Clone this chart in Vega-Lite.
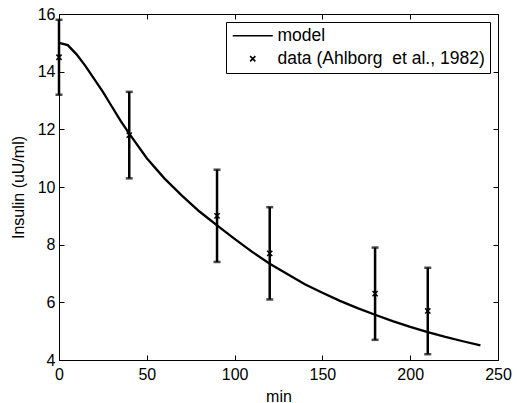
{
  "$schema": "https://vega.github.io/schema/vega-lite/v6.json",
  "width": 439,
  "height": 346,
  "autosize": {"type": "none"},
  "padding": {"left": 59, "top": 14, "right": 19, "bottom": 43},
  "config": {
    "font": "Liberation Sans",
    "view": {"stroke": "black", "strokeWidth": 1},
    "axis": {
      "domain": false, "offset": -5,
      "tickColor": "black", "tickSize": 5, "tickWidth": 1,
      "labelColor": "black", "labelFontSize": 16, "labelFont": "Liberation Sans",
      "titleColor": "black", "titleFontSize": 16, "titleFontWeight": "normal", "titleFont": "Liberation Sans",
      "grid": false, "labelFlush": false, "labelOverlap": false
    },
    "legend": {
      "orient": "top-right", "offset": 8, "strokeColor": "black", "fillColor": "white",
      "padding": 5, "labelFontSize": 17.5, "labelFont": "Liberation Sans", "labelColor": "black", "labelLimit": 400,
      "symbolSize": 16, "symbolStrokeWidth": 1.6, "symbolStrokeColor": "black",
      "rowPadding": 4, "symbolOffset": 13, "labelOffset": 16
    }
  },
  "datasets": {
    "curve": [
      {"t": 0, "insulin": 15.0}, {"t": 5, "insulin": 14.92}, {"t": 10, "insulin": 14.6},
      {"t": 15, "insulin": 14.2}, {"t": 20, "insulin": 13.75}, {"t": 25, "insulin": 13.3},
      {"t": 30, "insulin": 12.8}, {"t": 35, "insulin": 12.3}, {"t": 40, "insulin": 11.85},
      {"t": 50, "insulin": 11.0}, {"t": 60, "insulin": 10.3}, {"t": 70, "insulin": 9.7},
      {"t": 80, "insulin": 9.15}, {"t": 90, "insulin": 8.67}, {"t": 100, "insulin": 8.2},
      {"t": 110, "insulin": 7.75}, {"t": 120, "insulin": 7.34}, {"t": 130, "insulin": 6.98},
      {"t": 140, "insulin": 6.63}, {"t": 150, "insulin": 6.33}, {"t": 160, "insulin": 6.05},
      {"t": 170, "insulin": 5.8}, {"t": 180, "insulin": 5.57}, {"t": 190, "insulin": 5.35},
      {"t": 200, "insulin": 5.15}, {"t": 210, "insulin": 4.97}, {"t": 220, "insulin": 4.8},
      {"t": 230, "insulin": 4.65}, {"t": 240, "insulin": 4.51}
    ],
    "obs": [
      {"t": 0, "mean": 14.5, "lo": 13.2, "hi": 15.8, "series": "data (Ahlborg\u00a0 et al., 1982)"},
      {"t": 40, "mean": 11.8, "lo": 10.3, "hi": 13.3, "series": "data (Ahlborg\u00a0 et al., 1982)"},
      {"t": 90, "mean": 9.0, "lo": 7.4, "hi": 10.6, "series": "data (Ahlborg\u00a0 et al., 1982)"},
      {"t": 120, "mean": 7.7, "lo": 6.1, "hi": 9.3, "series": "data (Ahlborg\u00a0 et al., 1982)"},
      {"t": 180, "mean": 6.3, "lo": 4.7, "hi": 7.9, "series": "data (Ahlborg\u00a0 et al., 1982)"},
      {"t": 210, "mean": 5.7, "lo": 4.2, "hi": 7.2, "series": "data (Ahlborg\u00a0 et al., 1982)"}
    ]
  },
  "layer": [
    {
      "data": {"name": "curve"},
      "mark": {"type": "line", "color": "black", "strokeWidth": 2.3},
      "encoding": {
        "x": {"field": "t", "type": "quantitative", "scale": {"domain": [0, 250], "nice": false},
              "axis": {"orient": "bottom", "values": [0, 50, 100, 150, 200, 250], "title": "min", "labelPadding": 6, "titlePadding": 6}},
        "y": {"field": "insulin", "type": "quantitative", "scale": {"domain": [4, 16], "nice": false, "zero": false},
              "axis": {"orient": "left", "values": [4, 6, 8, 10, 12, 14, 16], "title": "Insulin (uU/ml)", "labelPadding": 4, "titlePadding": 11}}
      }
    },
    {
      "data": {"name": "obs"},
      "mark": {"type": "errorbar", "ticks": {"size": 7, "thickness": 2.5, "color": "black"}, "rule": {"strokeWidth": 2.5, "color": "black"}},
      "encoding": {
        "x": {"field": "t", "type": "quantitative", "scale": {"domain": [0, 250], "nice": false}, "axis": null},
        "y": {"field": "lo", "type": "quantitative", "scale": {"domain": [4, 16], "nice": false, "zero": false}, "axis": null},
        "y2": {"field": "hi"}
      }
    },
    {
      "data": {"name": "obs"},
      "mark": {"type": "point", "filled": false, "color": "black", "strokeWidth": 1.5, "size": 16, "opacity": 1},
      "encoding": {
        "x": {"field": "t", "type": "quantitative", "scale": {"domain": [0, 250], "nice": false},
              "axis": {"orient": "top", "values": [0, 50, 100, 150, 200, 250], "labels": false, "title": null}},
        "y": {"field": "mean", "type": "quantitative", "scale": {"domain": [4, 16], "nice": false, "zero": false},
              "axis": {"orient": "right", "values": [4, 6, 8, 10, 12, 14, 16], "labels": false, "title": null}},
        "shape": {"field": "series", "type": "nominal",
                  "scale": {"domain": ["model", "data (Ahlborg\u00a0 et al., 1982)"], "range": ["M-10,0L10,0", "M-1.3,-1.3L1.3,1.3M-1.3,1.3L1.3,-1.3"]},
                  "legend": {"title": null}}
      }
    }
  ],
  "resolve": {"axis": {"x": "independent", "y": "independent"}}
}
